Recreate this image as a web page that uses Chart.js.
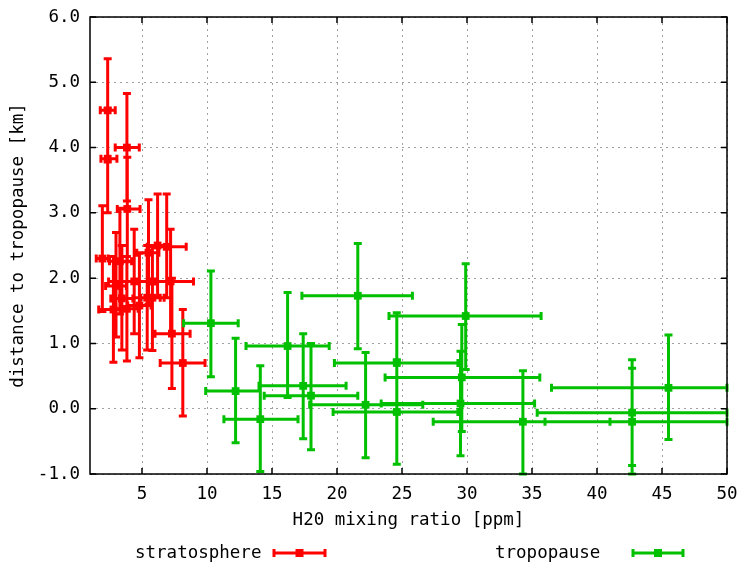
<!DOCTYPE html>
<html>
<head>
<meta charset="utf-8">
<script src="https://cdn.jsdelivr.net/npm/chart.js@4.4.1/dist/chart.umd.min.js"></script>
<style>
  html, body { margin: 0; padding: 0; background: #fff; }
</style>
</head>
<body>
<canvas id="chart" width="744" height="564"></canvas>
<script>
// ---- data ----
const xTickValues = [5, 10, 15, 20, 25, 30, 35, 40, 45, 50];
const yTickValues = [-1, 0, 1, 2, 3, 4, 5, 6];

// stratosphere (red)
const stratX     = [2.36, 2.36, 3.84, 3.87, 1.95, 3.30, 2.80, 3.84, 4.80, 5.80, 6.90, 6.20, 7.30, 8.14, 4.40, 7.20, 3.45, 5.40, 5.50, 3.00];
const stratY     = [4.57, 3.83, 4.00, 3.06, 2.30, 2.26, 1.52, 1.53, 1.58, 1.70, 2.48, 2.50, 1.15, 0.70, 1.95, 1.95, 1.69, 1.70, 2.39, 1.88];
const stratXLow  = [1.79, 1.84, 2.94, 3.10, 1.48, 2.50, 1.67, 3.00, 3.90, 4.90, 5.40, 5.50, 6.00, 6.40, 2.43, 5.60, 2.60, 4.40, 4.60, 2.20];
const stratXHigh = [2.94, 3.07, 4.79, 4.85, 2.40, 4.20, 3.33, 4.70, 5.70, 6.70, 8.40, 6.90, 8.70, 9.85, 6.00, 8.96, 4.30, 6.40, 6.30, 3.80];
const stratYLow  = [3.78, 3.00, 3.18, 2.25, 1.49, 1.45, 0.71, 0.73, 0.78, 0.89, 1.70, 1.70, 0.31, -0.11, 1.15, 1.15, 0.90, 0.90, 1.60, 1.10];
const stratYHigh = [5.36, 4.60, 4.83, 3.85, 3.11, 3.07, 2.33, 2.33, 2.38, 2.50, 3.29, 3.29, 2.00, 1.52, 2.75, 2.75, 2.50, 2.50, 3.20, 2.70];

// tropopause (green)
const tropoX     = [10.3, 12.2, 14.1, 16.2, 17.4, 18.0, 21.6, 22.2, 24.6, 24.6, 29.6, 29.9, 29.5, 34.3, 45.5, 42.7, 42.7];
const tropoY     = [1.31, 0.27, -0.16, 0.96, 0.35, 0.20, 1.73, 0.06, 0.70, -0.05, 0.48, 1.42, 0.08, -0.20, 0.32, -0.06, -0.20];
const tropoXLow  = [8.2, 9.9, 11.3, 13.0, 14.0, 14.4, 17.3, 17.9, 19.8, 19.7, 23.7, 24.0, 23.4, 27.4, 36.5, 35.4, 36.0];
const tropoXHigh = [12.4, 14.1, 17.0, 19.4, 20.7, 21.6, 25.8, 26.6, 29.3, 29.3, 35.6, 35.7, 35.2, 41.0, 50.0, 50.0, 50.0];
const tropoYLow  = [0.49, -0.52, -0.96, 0.17, -0.46, -0.63, 0.92, -0.75, -0.07, -0.85, -0.35, 0.60, -0.72, -1.00, -0.47, -0.87, -1.00];
const tropoYHigh = [2.11, 1.08, 0.66, 1.78, 1.15, 1.00, 2.53, 0.86, 1.47, 0.75, 1.29, 2.22, 0.88, 0.58, 1.13, 0.75, 0.62];

const RED = '#ff0000';
const GREEN = '#00c000';
const FONT = { family: '"DejaVu Sans Mono", "Liberation Mono", monospace', size: 17.5 };

const toPoints = (xs, ys) => xs.map((x, i) => ({ x: x, y: ys[i] }));

// error bars drawn just before each dataset's markers
const errorBars = {
    id: 'errorBars',
    beforeDatasetDraw(chart, args) {
        const ds = chart.data.datasets[args.index];
        const e = ds.errors;
        const xs = chart.scales.x, ys = chart.scales.y;
        const c = chart.ctx;
        const cap = 4;
        c.save();
        c.strokeStyle = ds.borderColor;
        c.lineWidth = 3;
        c.beginPath();
        ds.data.forEach((p, i) => {
            const px = xs.getPixelForValue(p.x), py = ys.getPixelForValue(p.y);
            const x0 = xs.getPixelForValue(e.xLow[i]), x1 = xs.getPixelForValue(e.xHigh[i]);
            const y0 = ys.getPixelForValue(e.yLow[i]), y1 = ys.getPixelForValue(e.yHigh[i]);
            c.moveTo(x0, py); c.lineTo(x1, py);
            c.moveTo(px, y0); c.lineTo(px, y1);
            c.moveTo(x0, py - cap); c.lineTo(x0, py + cap);
            c.moveTo(x1, py - cap); c.lineTo(x1, py + cap);
            c.moveTo(px - cap, y0); c.lineTo(px + cap, y0);
            c.moveTo(px - cap, y1); c.lineTo(px + cap, y1);
        });
        c.stroke();
        c.restore();
    }
};

// gnuplot style frame, inward ticks and the legend row under the plot
const frame = {
    id: 'frame',
    afterDraw(chart) {
        const c = chart.ctx;
        const a = chart.chartArea;
        const xs = chart.scales.x, ys = chart.scales.y;
        const t = 6;
        c.save();
        c.strokeStyle = '#000';
        c.lineWidth = 1.5;
        c.strokeRect(a.left, a.top, a.right - a.left, a.bottom - a.top);
        c.beginPath();
        xTickValues.forEach(v => {
            const px = xs.getPixelForValue(v);
            c.moveTo(px, a.bottom); c.lineTo(px, a.bottom - t);
            c.moveTo(px, a.top); c.lineTo(px, a.top + t);
        });
        yTickValues.forEach(v => {
            const py = ys.getPixelForValue(v);
            c.moveTo(a.left, py); c.lineTo(a.left + t, py);
            c.moveTo(a.right, py); c.lineTo(a.right - t, py);
        });
        c.stroke();

        // legend
        const entries = [
            { textX: 135, x0: 274, x1: 325 },
            { textX: 495, x0: 633, x1: 683 }
        ];
        const ly = 553;
        c.font = FONT.size + 'px ' + FONT.family;
        c.textBaseline = 'middle';
        c.textAlign = 'left';
        entries.forEach((en, i) => {
            const ds = chart.data.datasets[i];
            c.fillStyle = '#000';
            c.fillText(ds.label, en.textX, ly);
            c.strokeStyle = ds.borderColor;
            c.lineWidth = 3;
            c.beginPath();
            c.moveTo(en.x0, ly); c.lineTo(en.x1, ly);
            c.moveTo(en.x0, ly - 4); c.lineTo(en.x0, ly + 4);
            c.moveTo(en.x1, ly - 4); c.lineTo(en.x1, ly + 4);
            c.stroke();
            c.fillStyle = ds.borderColor;
            const mx = (en.x0 + en.x1) / 2;
            c.fillRect(mx - 4, ly - 4, 8, 8);
        });
        c.restore();
    }
};

new Chart(document.getElementById('chart'), {
    type: 'scatter',
    data: {
        datasets: [
            {
                label: 'stratosphere',
                data: toPoints(stratX, stratY),
                errors: { xLow: stratXLow, xHigh: stratXHigh, yLow: stratYLow, yHigh: stratYHigh },
                backgroundColor: RED,
                borderColor: RED,
                borderWidth: 0,
                pointStyle: 'rect',
                pointRadius: 5.5,
                order: 1
            },
            {
                label: 'tropopause',
                data: toPoints(tropoX, tropoY),
                errors: { xLow: tropoXLow, xHigh: tropoXHigh, yLow: tropoYLow, yHigh: tropoYHigh },
                backgroundColor: GREEN,
                borderColor: GREEN,
                borderWidth: 0,
                pointStyle: 'rect',
                pointRadius: 5.5,
                order: 0
            }
        ]
    },
    options: {
        responsive: false,
        animation: false,
        events: [],
        layout: { padding: { top: 17, right: 17, bottom: 30, left: 0 } },
        plugins: { legend: { display: false }, tooltip: { enabled: false } },
        scales: {
            x: {
                type: 'linear',
                min: 1,
                max: 50,
                afterBuildTicks: s => { s.ticks = xTickValues.map(v => ({ value: v })); },
                afterFit: s => { s.height = 60; s.paddingLeft = 0; s.paddingRight = 0; },
                grid: { color: '#a0a0a0', lineWidth: 1, drawTicks: false },
                border: { display: false, dash: [2, 4] },
                ticks: { font: FONT, color: '#000', padding: 10, maxRotation: 0, callback: v => String(v) },
                title: { display: true, text: 'H20 mixing ratio [ppm]', font: FONT, color: '#000', padding: { top: 0, bottom: 3 } }
            },
            y: {
                type: 'linear',
                min: -1,
                max: 6,
                afterBuildTicks: s => { s.ticks = yTickValues.map(v => ({ value: v })); },
                afterFit: s => { s.width = 90; s.paddingTop = 0; s.paddingBottom = 0; },
                grid: { color: '#a0a0a0', lineWidth: 1, drawTicks: false },
                border: { display: false, dash: [2, 4] },
                ticks: { font: FONT, color: '#000', padding: 10, callback: v => v.toFixed(1) },
                title: { display: true, text: 'distance to tropopause [km]', font: FONT, color: '#000', padding: { top: 8, bottom: 0 } }
            }
        }
    },
    plugins: [errorBars, frame]
});
</script>
</body>
</html>
